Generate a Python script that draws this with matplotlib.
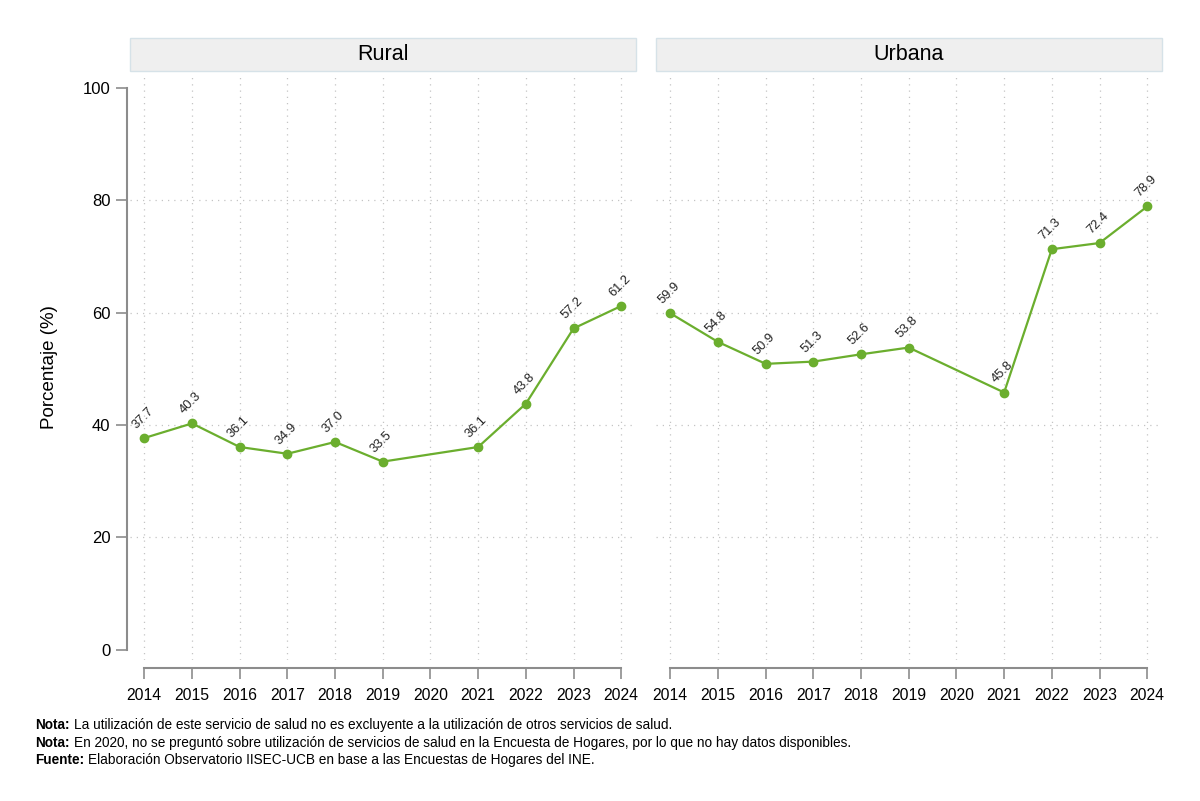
import matplotlib.pyplot as plt
from matplotlib.patches import Rectangle

years = [2014, 2015, 2016, 2017, 2018, 2019, 2021, 2022, 2023, 2024]
rural = [37.7, 40.3, 36.1, 34.9, 37.0, 33.5, 36.1, 43.8, 57.2, 61.2]
urbana = [59.9, 54.8, 50.9, 51.3, 52.6, 53.8, 45.8, 71.3, 72.4, 78.9]
panels = ["Rural", "Urbana"]
xticks = list(range(2014, 2025))
yticks = [0, 20, 40, 60, 80, 100]
notes = [
    ("Nota:", "La utilización de este servicio de salud no es excluyente a la utilización de otros servicios de salud."),
    ("Nota:", "En 2020, no se preguntó sobre utilización de servicios de salud en la Encuesta de Hogares, por lo que no hay datos disponibles."),
    ("Fuente:", "Elaboración Observatorio IISEC-UCB en base a las Encuestas de Hogares del INE."),
]

plt.rcParams['font.family'] = ['Liberation Sans', 'DejaVu Sans']
green = '#6BAE2E'
axcol = '#8c8c8c'

W, H = 1200, 801
fig = plt.figure(figsize=(12, 8.01), dpi=100)

lefts = [130, 656]
for i, (name, vals) in enumerate(zip(panels, [rural, urbana])):
    l = lefts[i]
    ax = fig.add_axes([l / W, 1 - 660 / H, 506 / W, 585 / H])
    ax.set_xlim(2013.7, 2024.31)
    ax.set_ylim(-1.8, 102.3)
    for x in xticks:
        ax.axvline(x, color='#c4c4c4', lw=0.9, ls=(0, (1, 4)), zorder=0)
    for y in [20, 40, 60, 80]:
        ax.axhline(y, color='#c4c4c4', lw=0.9, ls=(0, (1, 4)), zorder=0)
    ax.plot(years, vals, color=green, lw=1.6, marker='o', ms=6, zorder=3)
    for x, v in zip(years, vals):
        ax.annotate(f"{v:.1f}", (x, v), xytext=(-1, 5), textcoords='offset points',
                    ha='center', va='bottom', rotation=45, fontsize=9.3, color='#222222')
    for s in ['top', 'right']:
        ax.spines[s].set_visible(False)
    ax.spines['bottom'].set_position(('outward', 6))
    ax.spines['bottom'].set_bounds(2014, 2024)
    ax.spines['bottom'].set_color(axcol)
    ax.spines['bottom'].set_linewidth(1.5)
    ax.set_xticks(xticks)
    ax.set_xticklabels([str(x) for x in xticks], fontsize=11.3)
    ax.tick_params(axis='x', length=8, width=1.2, color=axcol, pad=6)
    if i == 0:
        ax.spines['left'].set_position(('outward', 2))
        ax.spines['left'].set_bounds(0, 100)
        ax.spines['left'].set_color(axcol)
        ax.spines['left'].set_linewidth(1.5)
        ax.set_yticks(yticks)
        ax.set_yticklabels([str(y) for y in yticks], fontsize=12)
        ax.tick_params(axis='y', length=8, width=1.2, color=axcol, pad=4)
        ax.set_ylabel("Porcentaje (%)", fontsize=13.5, labelpad=18)
    else:
        ax.spines['left'].set_visible(False)
        ax.set_yticks([])
    ax.patch.set_alpha(0)

    fig.patches.append(Rectangle((l / W, 1 - 71 / H), 506 / W, 33 / H, transform=fig.transFigure,
                                 facecolor='#efefef', edgecolor='#d6e2e8', lw=1))
    fig.text((l + 253) / W, 1 - 54.5 / H, name, ha='center', va='center', fontsize=15.5)

ys = [725, 743, 760]
ax0 = fig.axes[0]
for (b, t), y in zip(notes, ys):
    tb = fig.text(35 / W, 1 - y / H, b, fontweight='bold', fontsize=9.8, va='center')
    ax0.annotate(t, xy=(1, 0.5), xycoords=tb, xytext=(3, 0), textcoords='offset points',
                 va='center', ha='left', fontsize=9.8, annotation_clip=False)

fig.savefig("out.png", dpi=100)
